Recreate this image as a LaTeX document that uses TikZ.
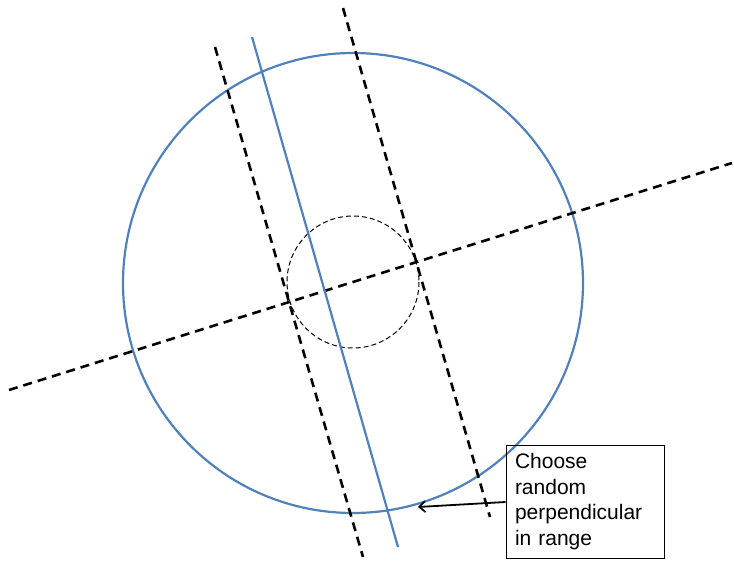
\documentclass[tikz,border=0pt]{standalone}
\usepackage{fontspec}
\setmainfont{Liberation Sans}
\usetikzlibrary{arrows.meta}
\definecolor{lineblue}{RGB}{79,129,189}
\begin{document}
\begin{tikzpicture}[x=1pt, y=-1pt,
    bluecurve/.style={draw=lineblue, line width=2.2pt},
    bigdash/.style={draw=black, line width=2.6pt, dash pattern=on 9pt off 6pt},
    smalldash/.style={draw=black, line width=1pt, dash pattern=on 5pt off 3pt},
    note/.style={rectangle, draw, line width=1pt, minimum width=158pt, minimum height=113pt, text width=140pt, inner xsep=9pt, align=left, font=\fontsize{21pt}{25.7pt}\selectfont}
]
\useasboundingbox (0,0) rectangle (734,560);

% Circles
\draw[bluecurve] (353,283) circle (230);
\draw[smalldash] (353,282) circle (66);

% Diameter and the two tangent lines
\draw[bigdash] (9,390) -- (732,163);
\draw[bigdash] (215,47) -- (363,557);
\draw[bigdash] (343,8) -- (490,517);

% Chosen chord
\draw[bluecurve] (252,37) -- (398,547);

% Label
\node[note] (lbl) at (585,501.5) {Choose\\random\\perpendicular\\in range};
\coordinate (hit) at (418,507);
\draw[line width=1.8pt, -{Straight Barb[length=6pt, width=11pt]}] (lbl.west |- 0,502) -- (hit);
\end{tikzpicture}
\end{document}
